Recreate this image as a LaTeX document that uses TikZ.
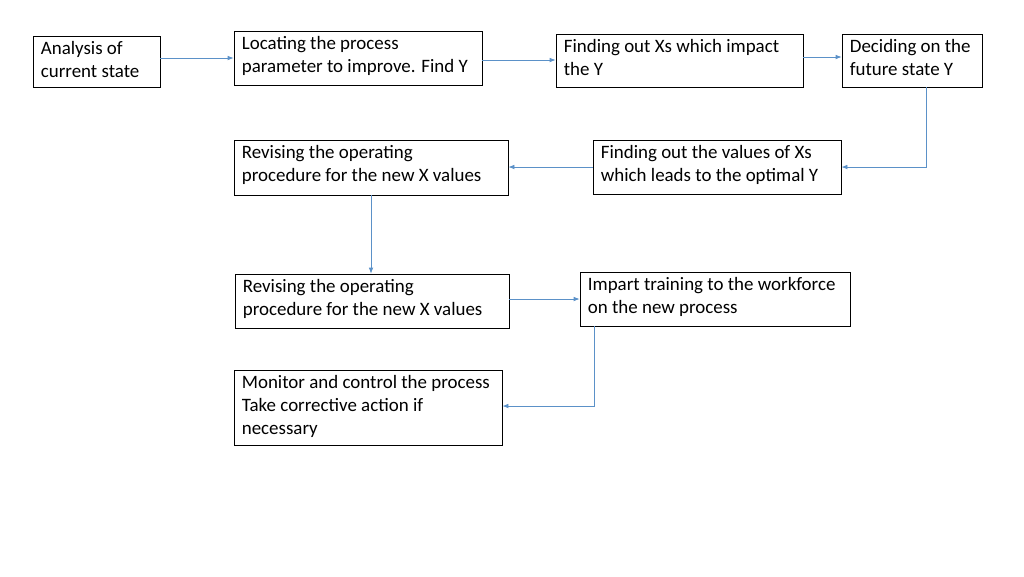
\documentclass[tikz,border=0pt]{standalone}
\usepackage{fontspec}
\setmainfont{Carlito}
\usetikzlibrary{arrows.meta}
\begin{document}
\begin{tikzpicture}[x=0.75pt,y=-0.75pt,
  box/.style={draw=black,line width=0.6pt,inner sep=0pt},
  txt/.style={anchor=north west,align=left,inner xsep=6pt,inner ysep=4pt,font=\fontsize{14.2pt}{17.3pt}\selectfont},
  conn/.style={draw={rgb,255:red,91;green,145;blue,200},line width=0.6pt,-{Latex[length=4.5pt,width=3.5pt]}}]
\useasboundingbox (0,0) rectangle (1024,576);
\newcommand\mybox[6]{\node[box,minimum width={(#4-#2)*0.75pt},minimum height={(#5-#3)*0.75pt}] (#1) at ({(#2+#4)/2},{(#3+#5)/2}) {};
  \node[txt] at (#1.north west) {#6};}
\mybox{a}{33}{36}{160}{87}{Analysis of\\current state}
\mybox{b}{234}{31}{482}{85}{Locating the process\\parameter to improve. Find Y}
\mybox{c}{556}{34}{803}{87}{Finding out Xs which impact\\the Y}
\mybox{d}{842}{34}{982}{87}{Deciding on the\\future state Y}
\mybox{e}{593}{140}{841}{194}{Finding out the values of Xs\\which leads to the optimal Y}
\mybox{f}{234}{140}{508}{195}{Revising the operating\\procedure for the new X values}
\mybox{g}{235}{274}{509}{328}{Revising the operating\\procedure for the new X values}
\mybox{h}{580}{272}{850}{326}{Impart training to the workforce\\on the new process}
\mybox{i}{234}{370}{502}{445}{Monitor and control the process\\Take corrective action if\\necessary}
\draw[conn] (a.east |- 0,58) -- (b.west |- 0,58);
\draw[conn] (b.east |- 0,60) -- (c.west |- 0,60);
\draw[conn] (c.east |- 0,57) -- (d.west |- 0,57);
\draw[conn] (d.south -| 926,0) |- (e.east |- 0,167);
\draw[conn] (e.west |- 0,167) -- (f.east |- 0,167);
\draw[conn] (f.south -| 371,0) -- (g.north -| 371,0);
\draw[conn] (g.east |- 0,299) -- (h.west |- 0,299);
\draw[conn] (h.south -| 594,0) |- (i.east |- 0,406);
\end{tikzpicture}
\end{document}
